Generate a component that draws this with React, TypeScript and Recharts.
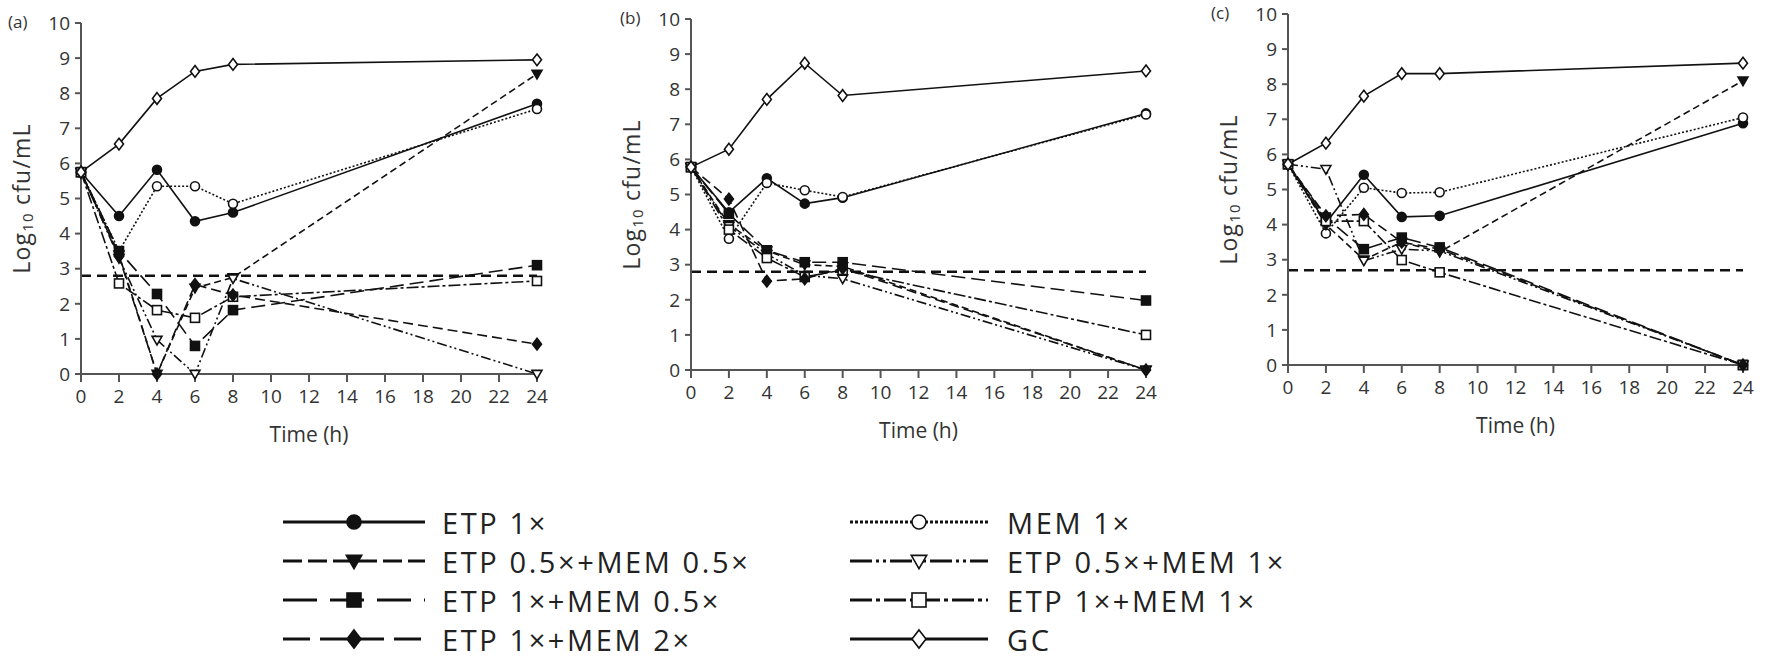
import React from 'react';
import { LineChart, Line, XAxis, YAxis, ReferenceLine } from 'recharts';

const times = [0, 2, 4, 6, 8, 24];
const xTicks = [0, 2, 4, 6, 8, 10, 12, 14, 16, 18, 20, 22, 24];
const yTicks = [0, 1, 2, 3, 4, 5, 6, 7, 8, 9, 10];

// panel (a)
const aEtp1 = [5.75, 4.5, 5.82, 4.35, 4.6, 7.7];
const aMem1 = [5.75, 3.5, 5.35, 5.35, 4.85, 7.55];
const aE05M05 = [5.75, 3.4, 0, 2.45, 2.75, 8.55];
const aE05M1 = [5.75, 3.3, 0.97, 0, 2.72, 0];
const aE1M05 = [5.75, 3.5, 2.28, 0.8, 1.82, 3.1];
const aE1M1 = [5.75, 2.58, 1.82, 1.6, 2.2, 2.65];
const aE1M2 = [5.75, 3.35, 0, 2.55, 2.25, 0.85];
const aGc = [5.75, 6.55, 7.85, 8.62, 8.82, 8.95];

// panel (b)
const bEtp1 = [5.78, 4.49, 5.46, 4.74, 4.91, 7.31];
const bMem1 = [5.78, 3.74, 5.33, 5.12, 4.93, 7.28];
const bE05M05 = [5.78, 4.15, 3.4, 3.0, 2.95, 0];
const bE05M1 = [5.78, 4.1, 3.3, 2.7, 2.6, 0];
const bE1M05 = [5.78, 4.45, 3.41, 3.07, 3.07, 1.98];
const bE1M1 = [5.78, 4.0, 3.19, 2.65, 2.85, 1.0];
const bE1M2 = [5.78, 4.87, 2.53, 2.6, 2.9, 0];
const bGc = [5.78, 6.29, 7.71, 8.74, 7.82, 8.52];

// panel (c)
const cEtp1 = [5.72, 4.05, 5.42, 4.22, 4.25, 6.89];
const cMem1 = [5.72, 3.75, 5.05, 4.9, 4.92, 7.05];
const cE05M05 = [5.72, 4.0, 3.0, 3.5, 3.22, 8.1];
const cE05M1 = [5.72, 5.58, 2.97, 3.3, 3.25, 0];
const cE1M05 = [5.72, 4.2, 3.3, 3.63, 3.35, 0];
const cE1M1 = [5.72, 4.1, 4.1, 2.99, 2.64, 0];
const cE1M2 = [5.72, 4.25, 4.29, 3.5, 3.3, 0];
const cGc = [5.72, 6.32, 7.66, 8.3, 8.3, 8.6];

const thresholds = [2.8, 2.8, 2.7];

type Shape = 'circle' | 'tri' | 'square' | 'diamond';

const seriesStyle = [
  { key: 'etp1', name: 'ETP 1×', shape: 'circle' as Shape, filled: true, dash: undefined },
  { key: 'mem1', name: 'MEM 1×', shape: 'circle' as Shape, filled: false, dash: '2 2' },
  { key: 'e05m05', name: 'ETP 0.5×+MEM 0.5×', shape: 'tri' as Shape, filled: true, dash: '7 4' },
  { key: 'e05m1', name: 'ETP 0.5×+MEM 1×', shape: 'tri' as Shape, filled: false, dash: '10 3 2 3 2 3' },
  { key: 'e1m05', name: 'ETP 1×+MEM 0.5×', shape: 'square' as Shape, filled: true, dash: '14 6' },
  { key: 'e1m1', name: 'ETP 1×+MEM 1×', shape: 'square' as Shape, filled: false, dash: '12 3 3 3' },
  { key: 'e1m2', name: 'ETP 1×+MEM 2×', shape: 'diamond' as Shape, filled: true, dash: '10 5' },
  { key: 'gc', name: 'GC', shape: 'diamond' as Shape, filled: false, dash: undefined },
];

const buildRows = (cols: number[][]) =>
  times.map((t, i) => {
    const row: any = { t };
    seriesStyle.forEach((s, j) => (row[s.key] = cols[j][i]));
    return row;
  });

const panels = [
  { letter: '(a)', rows: buildRows([aEtp1, aMem1, aE05M05, aE05M1, aE1M05, aE1M1, aE1M2, aGc]), plotLeft: 81, plotRight: 537, plotTop: 23, plotBottom: 374, thr: thresholds[0], letterX: 8, letterY: 10 },
  { letter: '(b)', rows: buildRows([bEtp1, bMem1, bE05M05, bE05M1, bE1M05, bE1M1, bE1M2, bGc]), plotLeft: 691, plotRight: 1146, plotTop: 19, plotBottom: 370, thr: thresholds[1], letterX: 620, letterY: 6 },
  { letter: '(c)', rows: buildRows([cEtp1, cMem1, cE05M05, cE05M1, cE1M05, cE1M1, cE1M2, cGc]), plotLeft: 1288, plotRight: 1743, plotTop: 14, plotBottom: 365, thr: thresholds[2], letterX: 1211, letterY: 1 },
];

const FONT = '"Open Sans", sans-serif';
const TXT = '#333';
const AXIS = '#555';

function marker(shape: Shape, filled: boolean, cx: number, cy: number, r: number, key?: any) {
  const fill = filled ? '#111' : '#fff';
  const sw = 1.6;
  if (shape === 'circle') return <circle key={key} cx={cx} cy={cy} r={r} fill={fill} stroke="#111" strokeWidth={sw} />;
  if (shape === 'square')
    return <rect key={key} x={cx - r} y={cy - r} width={2 * r} height={2 * r} fill={fill} stroke="#111" strokeWidth={sw} />;
  if (shape === 'tri')
    return (
      <polygon key={key} points={`${cx - r * 1.1},${cy - r * 0.8} ${cx + r * 1.1},${cy - r * 0.8} ${cx},${cy + r * 1.1}`} fill={fill} stroke="#111" strokeWidth={sw} />
    );
  return <polygon key={key} points={`${cx},${cy - r * 1.3} ${cx + r},${cy} ${cx},${cy + r * 1.3} ${cx - r},${cy}`} fill={fill} stroke="#111" strokeWidth={sw} />;
}

const dotFor = (shape: Shape, filled: boolean) => (p: any) => {
  if (p.cx == null || p.cy == null) return <g key={p.index} />;
  return marker(shape, filled, p.cx, p.cy, 4.5, p.index);
};

const YLabel = (cx: number, cy: number) => (
  <text
    x={cx}
    y={cy}
    transform={`rotate(-90 ${cx} ${cy})`}
    textAnchor="middle"
    fontFamily={FONT}
    fontSize={23}
    letterSpacing={1.2}
    fill={TXT}
    dominantBaseline="central"
  >
    Log
    <tspan fontSize={15} dy={6}>10</tspan>
    <tspan dy={-6}> cfu/mL</tspan>
  </text>
);

function Panel({ p }: { p: (typeof panels)[number] }) {
  const chartX = p.plotLeft - 81;
  const W = 560;
  const H = 450;
  const yW = 45;
  const xH = 68;
  const margin = {
    top: p.plotTop,
    left: p.plotLeft - chartX - yW,
    right: chartX + W - p.plotRight,
    bottom: H - p.plotBottom - xH,
  };
  const midY = (p.plotTop + p.plotBottom) / 2;
  return (
    <div style={{ position: 'absolute', left: chartX, top: 0 }}>
      <LineChart width={W} height={H} data={p.rows} margin={margin}>
        <XAxis
          type="number"
          dataKey="t"
          domain={[0, 24]}
          ticks={xTicks}
          interval={0}
          height={xH}
          tickSize={8}
          tickMargin={8}
          stroke={AXIS}
          strokeWidth={2}
          tick={{ fontSize: 19, fill: TXT, fontFamily: FONT }}
          label={{ value: 'Time (h)', position: 'insideBottom', offset: 0, fontSize: 21, fill: TXT, fontFamily: FONT }}
        />
        <YAxis
          type="number"
          domain={[0, 10]}
          ticks={yTicks}
          interval={0}
          width={yW}
          tickSize={6}
          tickMargin={5}
          stroke={AXIS}
          strokeWidth={2}
          tick={{ fontSize: 19, fill: TXT, fontFamily: FONT }}
          label={{ content: () => YLabel(21, midY) }}
        />
        <ReferenceLine y={p.thr} stroke="#111" strokeWidth={2.5} strokeDasharray="10 6" ifOverflow="extendDomain" />
        {seriesStyle.map((s) => (
          <Line
            key={s.key}
            type="linear"
            dataKey={s.key}
            stroke="#111"
            strokeWidth={1.6}
            strokeDasharray={s.dash}
            dot={dotFor(s.shape, s.filled)}
            activeDot={false}
            isAnimationActive={false}
          />
        ))}
      </LineChart>
      <div
        style={{
          position: 'absolute',
          left: p.letterX - chartX,
          top: p.letterY,
          fontFamily: FONT,
          fontSize: 17,
          color: TXT,
        }}
      >
        {p.letter}
      </div>
    </div>
  );
}

const legendRows = [522, 561, 600, 639];
const legendCols = [
  { x1: 283, x2: 425, tx: 442 },
  { x1: 850, x2: 988, tx: 1007 },
];
const legendDash: Record<string, string | undefined> = {
  etp1: undefined,
  mem1: '3 2',
  e05m05: '19 6',
  e05m1: '22 4 3 4 3 4',
  e1m05: '34 13',
  e1m1: '22 4 4 4',
  e1m2: '27 10',
  gc: undefined,
};

function Legend() {
  return (
    <svg width={1765} height={172} style={{ position: 'absolute', left: 0, top: 490 }}>
      {seriesStyle.map((s, i) => {
        const col = legendCols[i % 2];
        const y = legendRows[Math.floor(i / 2)] - 490;
        const mx = (col.x1 + col.x2) / 2;
        return (
          <g key={s.key}>
            <line x1={col.x1} x2={col.x2} y1={y} y2={y} stroke="#111" strokeWidth={3} strokeDasharray={legendDash[s.key]} />
            {marker(s.shape, s.filled, mx, y, 7)}
            <text x={col.tx} y={y} dominantBaseline="central" fontFamily={FONT} fontSize={29} letterSpacing={2.6} fill="#222">
              {s.name}
            </text>
          </g>
        );
      })}
    </svg>
  );
}

export default function App() {
  return (
    <div style={{ position: 'absolute', left: 0, top: 0, width: 1765, height: 662, background: '#fff', overflow: 'hidden' }}>
      {panels.map((p) => (
        <Panel key={p.letter} p={p} />
      ))}
      <Legend />
    </div>
  );
}
